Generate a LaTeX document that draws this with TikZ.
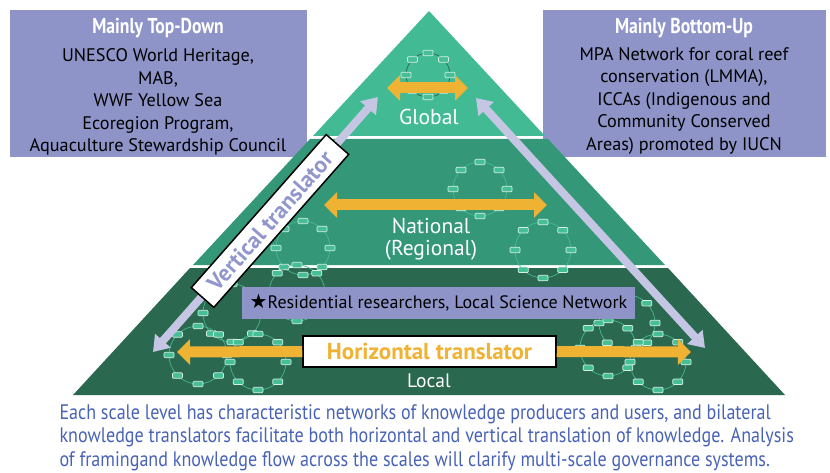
\documentclass[tikz,border=0pt]{standalone}
\usepackage{fontspec}
\setmainfont{PT Sans}
\newfontfamily\condfont[FakeStretch=0.82]{PT Sans}
\newfontfamily\capfont[FakeStretch=0.86]{PT Sans}
\newfontfamily\symfont{DejaVu Sans}
\usetikzlibrary{arrows.meta}
\definecolor{globalc}{RGB}{66,187,148}
\definecolor{nationalc}{RGB}{52,152,120}
\definecolor{localc}{RGB}{43,104,80}
\definecolor{boxc}{RGB}{142,148,200}
\definecolor{lavc}{RGB}{196,198,228}
\definecolor{orangec}{RGB}{240,178,50}
\definecolor{vtextc}{RGB}{145,150,205}
\definecolor{capc}{RGB}{72,98,182}
\definecolor{knotc}{RGB}{70,190,150}
\definecolor{knotline}{RGB}{215,240,230}
\definecolor{ringc}{RGB}{70,185,145}
\definecolor{gringc}{RGB}{45,100,80}
\newcommand\ring[5][ringline]{%
	\draw[#1] (#3,#4) circle (#5pt);
	\foreach \a in {0,45,...,315}
		\path (#3,#4) ++(\a:#5pt) node[knot] (#2-\a) {};}
\tikzstyle{knot} = [draw=knotline,fill=knotc,rounded corners=1pt,minimum width=10pt,minimum height=5.5pt,inner sep=0pt,line width=0.7pt]
\tikzstyle{ringline} = [draw=ringc,line width=0.7pt]
\tikzstyle{gring} = [draw=gringc,line width=0.7pt]
\tikzstyle{infobox} = [fill=boxc,inner sep=0pt]
\tikzstyle{boxtitle} = [text=white,font=\condfont\bfseries\fontsize{21.5}{22}\selectfont]
\tikzstyle{boxtext} = [align=center,font=\fontsize{18.2}{22.5}\selectfont]
\tikzstyle{level} = [text=white,align=center,font=\fontsize{21.5}{22}\selectfont]
\tikzstyle{hflow} = [draw=orangec,line width=11pt,>={Triangle[length=13pt,width=25pt]},<->]
\tikzstyle{vflow} = [draw=lavc,line width=8pt,>={Triangle[length=15pt,width=20pt]},<->]
\tikzstyle{transl} = [draw=black,fill=white,line width=1.5pt,inner sep=0pt,font=\bfseries\fontsize{23}{24}\selectfont]

\begin{document}
\begin{tikzpicture}[x=1pt,y=-1pt]
\useasboundingbox (0,0) rectangle (830,473);

\node[infobox,minimum width=297pt,minimum height=147pt] (tdbox) at (158.5,83.5) {};
\node[infobox,minimum width=283pt,minimum height=147pt] (bubox) at (684.5,83.5) {};
\node[boxtitle] (tdtitle) at (158,28) {Mainly Top-Down};
\node[boxtitle] (butitle) at (684,28) {Mainly Bottom-Up};
\node[boxtext] (tdtext) at (158,102) {UNESCO World Heritage,\\MAB,\\WWF Yellow Sea\\Ecoregion Program,\\Aquaculture Stewardship Council};
\node[boxtext] (butext) at (684,101) {MPA Network for coral reef\\conservation (LMMA),\\ICCAs (Indigenous and\\Community Conserved\\Areas) promoted by IUCN};

\fill[localc] (73,395) -- (190,268) -- (668,268) -- (785,395) -- cycle;
\fill[nationalc] (193,265) -- (310,139) -- (548,139) -- (665,265) -- cycle;
\fill[globalc] (313,136) -- (429,11) -- (545,136) -- cycle;

\ring[gring]{gA}{428}{75}{22}
\ring{nA}{480}{189}{27}
\ring{nB}{543}{250}{28}
\ring{nC}{303}{248}{27}
\ring{lD}{297}{293}{28}
\ring{lC}{232}{313}{29}
\ring{lA}{198}{355}{29}
\ring{lB}{258}{362}{28}
\ring{lG}{627}{323}{28}
\ring{lE}{608}{348}{28}
\ring{lF}{658}{362}{28}

\node[level] (global) at (429,117) {Global};
\node[level] (national) at (431,239) {National\\(Regional)};
\node[level,font=\fontsize{19.5}{20}\selectfont] (local) at (429,381) {Local};

\coordinate (gwest) at (387,88);
\coordinate (geast) at (468,88);
\coordinate (nwest) at (324,205);
\coordinate (neast) at (547,205);
\coordinate (lwest) at (177,352);
\coordinate (least) at (691,352);
\coordinate (vlow) at (153,352);
\coordinate (vtop) at (378,97);
\coordinate (wtop) at (476,98);
\coordinate (wlow) at (705,348);

\draw[hflow] (gwest) -- (geast);
\draw[hflow] (nwest) -- (neast);
\draw[vflow] (vlow) -- (vtop);
\draw[vflow] (wtop) -- (wlow);

\node[fill=boxc,minimum width=393pt,minimum height=32pt,inner sep=0pt,font=\fontsize{18}{20}\selectfont] (resid) at (438.5,303) {{\symfont\fontsize{20}{20}\selectfont★}Residential researchers, Local Science Network};

\node[transl,text=orangec,minimum width=253pt,minimum height=31pt] (htrans) at (429.5,351.5) {Horizontal translator};
\draw[hflow,->] (htrans.west) -- (lwest);
\draw[hflow,->] (htrans.east) -- (least);

\node[transl,text=vtextc,minimum width=204pt,minimum height=30pt,rotate=48.6] (vtrans) at (270,221) {Vertical translator};

\node[anchor=north west,align=left,text=capc,font=\capfont\fontsize{21}{23.5}\selectfont] (caption) at (56,401) {Each scale level has characteristic networks of knowledge producers and users, and bilateral\\knowledge translators facilitate both horizontal and vertical translation of knowledge. Analysis\\of framingand knowledge flow across the scales will clarify multi-scale governance systems.};

\end{tikzpicture}
\end{document}
